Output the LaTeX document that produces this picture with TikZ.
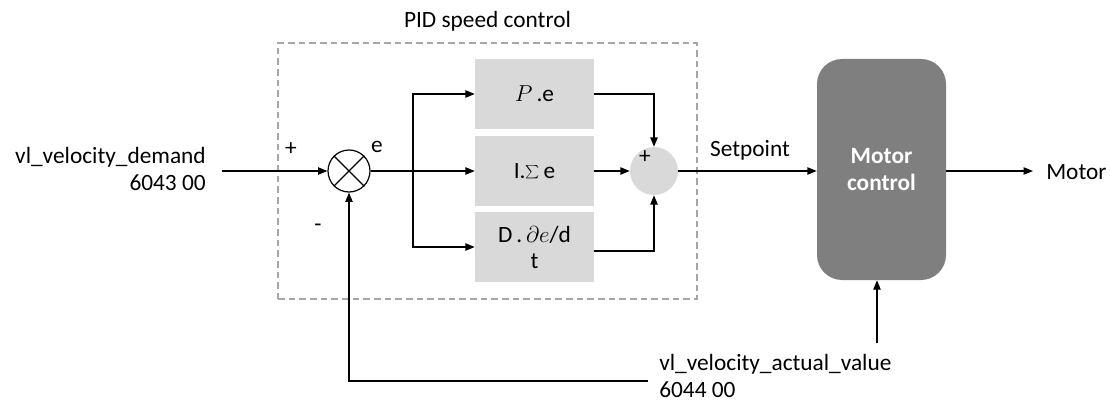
\documentclass[tikz,border=0pt]{standalone}
\usepackage{fontspec}
\setmainfont{Carlito}
\usetikzlibrary{arrows.meta,calc}
\definecolor{boxgray}{HTML}{D9D9D9}
\definecolor{mcgray}{HTML}{7F7F7F}
\definecolor{dashgray}{HTML}{A6A6A6}
\begin{document}
\begin{tikzpicture}[x=0.75pt,y=-0.75pt,
  every node/.style={font=\fontsize{17.5}{20.5}\selectfont, inner sep=0pt},
  conn/.style={line width=0.9pt},
  arr/.style={line width=0.9pt,-{Triangle[length=7pt,width=5.5pt]}},
  blk/.style={fill=boxgray, minimum width=89.25pt, minimum height=52pt, align=center},
  lbl/.style={},
]
\useasboundingbox (0,0) rectangle (1110,403);

% dashed PID frame
\node[draw=dashgray, dash pattern=on 5pt off 3pt, line width=0.8pt,
      minimum width=314.25pt, minimum height=192pt] (pid) at (487.5,171) {};
\node[lbl] (title) at (487.5,21) {PID speed control};

% blocks
\node[blk] (P) at (534.5,94) {$P$\,.e};
\node[blk] (I) at (534.5,171) {$\mathrm{I}$.$\sum$\,e};
\node[blk] (D) at (534.5,247) {$\mathrm{D}$\,.\,$\partial e$/d\\[-1pt]t};

\node[draw, circle, line width=0.9pt, minimum size=31.5pt] (mix) at (349,171) {};
\draw[conn] (mix.45) -- (mix.225) (mix.135) -- (mix.315);
\node[circle, fill=boxgray, minimum size=36pt] (sum) at (654,171) {};

\node[fill=mcgray, rounded corners=18.75pt, minimum width=96.75pt, minimum height=165.75pt,
      text=white, font=\fontsize{17.5}{20.5}\selectfont\bfseries, align=center] (mc) at (881.5,169.5) {Motor\\control};

% labels
\node[anchor=east, align=right] (vin) at (206,169) {vl\_velocity\_demand\\6043 00};
\node[anchor=west, align=left] (vact) at (659,376) {vl\_velocity\_actual\_value\\6044 00};
\node[anchor=west] (motor) at (1046,172) {Motor};
\node (setp) at (750,150) {Setpoint};
\node (plus1) at (291,149) {+};
\node (minus1) at (318,228) {-};
\node (elbl) at (377,147) {e};
\node (plus2) at (645,157) {+};

% coordinates
\coordinate (inS) at (222,171);
\coordinate (br) at (413,171);
\coordinate (outE) at (1033,171);
\coordinate (fbS) at (648,381);
\coordinate (actS) at (877,343);

% connectors
\draw[arr] (inS) -- (mix.west);
\draw[conn] (mix.east) -- (br);
\draw[arr] (br) -- (I.west);
\draw[arr] (br) |- (P.west);
\draw[arr] (br) |- (D.west);
\draw[arr] (P.east) -| (sum.north);
\draw[arr] (I.east) -- (sum.west);
\draw[arr] ([yshift=-3pt]D.east) -| (sum.south);
\draw[arr] (sum.east) -- (sum.east -| mc.west);
\draw[arr] (mc.east |- outE) -- (outE);
\draw[arr] (actS) -- (actS |- mc.south);
\draw[arr] (fbS) -| (mix.south);
\end{tikzpicture}
\end{document}
